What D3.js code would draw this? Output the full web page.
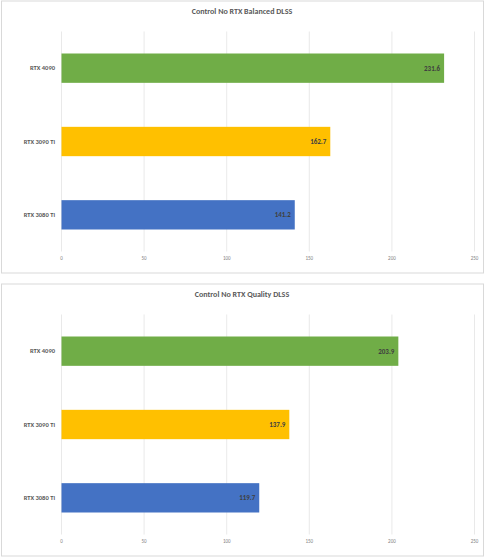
<!DOCTYPE html>
<html>
<head>
<meta charset="utf-8">
<script src="https://cdn.jsdelivr.net/npm/d3@7"></script>
<style>
  body { margin: 0; background: #fff; }
  svg { display: block; font-family: Calibri, Carlito, "Open Sans", sans-serif; }
</style>
</head>
<body>
<div id="chart"></div>
<script>
const gpus = ["RTX 4090", "RTX 3090 Ti", "RTX 3080 Ti"];
const balancedFps = [231.6, 162.7, 141.2];
const qualityFps = [203.9, 137.9, 119.7];
const titles = ["Control No RTX Balanced DLSS", "Control No RTX Quality DLSS"];
const xTicks = [0, 50, 100, 150, 200, 250];
const colors = ["#70AD47", "#FFC000", "#4472C4"];

const svg = d3
  .select("#chart")
  .append("svg")
  .attr("width", 487)
  .attr("height", 560);

function drawPanel(top, title, values) {
  const g = svg.append("g").attr("transform", `translate(0,${top})`);

  // panel frame
  g.append("rect")
    .attr("x", 1.5)
    .attr("y", 0.5)
    .attr("width", 482)
    .attr("height", 272)
    .attr("fill", "#fff")
    .attr("stroke", "#d9d9d9");

  g.append("text")
    .attr("x", 242)
    .attr("y", 13)
    .attr("text-anchor", "middle")
    .attr("font-size", 8)
    .attr("font-weight", "bold")
    .attr("fill", "#595959")
    .text(title);

  const x = d3.scaleLinear().domain([0, 250]).range([61.5, 474.5]);
  const y = d3.scaleBand().domain(gpus).range([31, 251]).paddingInner(0.6).paddingOuter(0.3);

  // gridlines
  g.selectAll(".grid")
    .data(xTicks)
    .enter()
    .append("line")
    .attr("x1", (d) => x(d))
    .attr("x2", (d) => x(d))
    .attr("y1", 31)
    .attr("y2", 251)
    .attr("stroke", "#e3e3e3")
    .attr("stroke-width", 0.8);

  // tick labels
  g.selectAll(".tick-label")
    .data(xTicks)
    .enter()
    .append("text")
    .attr("x", (d) => x(d))
    .attr("y", 259)
    .attr("text-anchor", "middle")
    .attr("font-size", 5)
    .attr("fill", "#7f7f7f")
    .text((d) => d);

  const rows = gpus.map((name, i) => ({ name, value: values[i], color: colors[i] }));

  g.selectAll(".bar")
    .data(rows)
    .enter()
    .append("rect")
    .attr("x", x(0))
    .attr("y", (d) => y(d.name))
    .attr("width", (d) => x(d.value) - x(0))
    .attr("height", y.bandwidth())
    .attr("fill", (d) => d.color);

  // value labels inside bar end
  g.selectAll(".val")
    .data(rows)
    .enter()
    .append("text")
    .attr("x", (d) => x(d.value) - 4)
    .attr("y", (d) => y(d.name) + y.bandwidth() / 2)
    .attr("dy", "0.35em")
    .attr("text-anchor", "end")
    .attr("font-size", 7)
    .attr("font-weight", 600)
    .attr("fill", "#404040")
    .text((d) => d.value.toFixed(1));

  // category labels
  g.selectAll(".cat")
    .data(rows)
    .enter()
    .append("text")
    .attr("x", 55)
    .attr("y", (d) => y(d.name) + y.bandwidth() / 2)
    .attr("dy", "0.35em")
    .attr("text-anchor", "end")
    .attr("font-size", 6.5)
    .attr("font-weight", 600)
    .attr("fill", "#595959")
    .text((d) => d.name);
}

drawPanel(0.5, titles[0], balancedFps);
drawPanel(283.5, titles[1], qualityFps);
</script>
</body>
</html>
